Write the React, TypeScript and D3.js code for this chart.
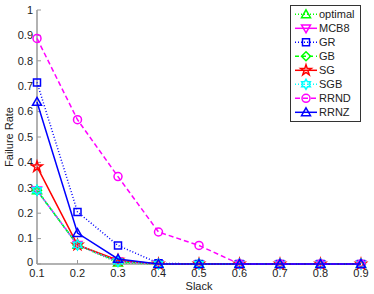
import * as d3 from "d3";

const slack = [0.1, 0.2, 0.3, 0.4, 0.5, 0.6, 0.7, 0.8, 0.9];
const optimal = [0.29, 0.075, 0.005, 0, 0, 0, 0, 0, 0];
const mcb8 = [0.29, 0.075, 0.01, 0, 0, 0, 0, 0, 0];
const gr = [0.715, 0.205, 0.073, 0.003, 0, 0, 0, 0, 0];
const gb = [0.29, 0.075, 0.01, 0, 0, 0, 0, 0, 0];
const sg = [0.383, 0.075, 0.015, 0, 0, 0, 0, 0, 0];
const sgb = [0.29, 0.075, 0.01, 0, 0, 0, 0, 0, 0];
const rrnd = [0.888, 0.568, 0.344, 0.126, 0.073, 0, 0, 0, 0];
const rrnz = [0.638, 0.122, 0.02, 0, 0, 0, 0, 0, 0];
const yTicks = [0, 0.1, 0.2, 0.3, 0.4, 0.5, 0.6, 0.7, 0.8, 0.9, 1];

type Marker = "triUp" | "triDown" | "square" | "diamond" | "star" | "hex" | "circle";

const series: { name: string; values: number[]; color: string; dash: string; marker: Marker }[] = [
  { name: "optimal", values: optimal, color: "#00ff00", dash: "1,2", marker: "triUp" },
  { name: "MCB8", values: mcb8, color: "#ff00ff", dash: "", marker: "triDown" },
  { name: "GR", values: gr, color: "#0000ff", dash: "1,2", marker: "square" },
  { name: "GB", values: gb, color: "#00ff00", dash: "4,3", marker: "diamond" },
  { name: "SG", values: sg, color: "#ff0000", dash: "", marker: "star" },
  { name: "SGB", values: sgb, color: "#00ffff", dash: "1,2", marker: "hex" },
  { name: "RRND", values: rrnd, color: "#ff00ff", dash: "5,3", marker: "circle" },
  { name: "RRNZ", values: rrnz, color: "#0000ff", dash: "", marker: "triUp" },
];

const markerPath = (m: Marker): string => {
  const s = 4.5;
  switch (m) {
    case "triUp":
      return `M0,${-s}L${s},${s * 0.75}L${-s},${s * 0.75}Z`;
    case "triDown":
      return `M0,${s}L${s},${-s * 0.75}L${-s},${-s * 0.75}Z`;
    case "square":
      return `M-3.5,-3.5H3.5V3.5H-3.5Z`;
    case "diamond":
      return `M0,-4.5L4.5,0L0,4.5L-4.5,0Z`;
    case "circle":
      return d3.arc()({ innerRadius: 0, outerRadius: 4, startAngle: 0, endAngle: 2 * Math.PI }) || "";
    case "star":
      return d3.symbol(d3.symbolStar, 34)() || "";
    case "hex": {
      const pts: string[] = [];
      for (let i = 0; i < 12; i++) {
        const r = i % 2 === 0 ? 5 : 2.9;
        const a = (i * Math.PI) / 6 - Math.PI / 2;
        pts.push(`${r * Math.cos(a)},${r * Math.sin(a)}`);
      }
      return "M" + pts.join("L") + "Z";
    }
  }
};

export default function App() {
  const W = 374;
  const H = 294;
  const x = d3.scaleLinear().domain([0.1, 0.9]).range([37, 361]);
  const y = d3.scaleLinear().domain([0, 1]).range([264, 10]);
  const line = d3
    .line<number>()
    .x((_, i) => x(slack[i]))
    .y((d) => y(d));
  const font = "Liberation Sans, Arial, sans-serif";
  const axisColor = "#999";

  return (
    <svg
      width={W}
      height={H}
      style={{ position: "absolute", left: 0, top: 0, background: "#fff" }}
      fontFamily={font}
    >
      {/* axes */}
      <line x1={x(0.1)} x2={x(0.1)} y1={y(0)} y2={y(1)} stroke={axisColor} strokeWidth={1.5} />
      <line x1={x(0.1)} x2={x(0.9)} y1={y(0)} y2={y(0)} stroke={axisColor} strokeWidth={1.5} />
      {yTicks.map((t) => (
        <g key={"y" + t}>
          <line x1={x(0.1)} x2={x(0.1) + 4} y1={y(t)} y2={y(t)} stroke={axisColor} />
          <text x={33} y={y(t)} dy={t === 0 ? "0.2em" : "0.35em"} textAnchor="end" fontSize={11} fill="#222">
            {t === 0 ? "0" : t === 1 ? "1" : d3.format(".1f")(t)}
          </text>
        </g>
      ))}
      {slack.map((t) => (
        <g key={"x" + t}>
          <line x1={x(t)} x2={x(t)} y1={y(0)} y2={y(0) - 4} stroke={axisColor} />
          <text x={x(t)} y={277} textAnchor="middle" fontSize={11} fill="#222">
            {d3.format(".1f")(t)}
          </text>
        </g>
      ))}
      <text x={199} y={290} textAnchor="middle" fontSize={11} fill="#222">
        Slack
      </text>
      <text
        transform={`translate(13,${y(0.5)}) rotate(-90)`}
        textAnchor="middle"
        fontSize={11}
        fill="#222"
      >
        Failure Rate
      </text>

      {/* series */}
      {series.map((s) => (
        <g key={s.name}>
          <path
            d={line(s.values) || ""}
            fill="none"
            stroke={s.color}
            strokeWidth={1.5}
            strokeDasharray={s.dash || undefined}
          />
          {s.values.map((v, i) => (
            <path
              key={i}
              d={markerPath(s.marker)}
              transform={`translate(${x(slack[i])},${y(v)})`}
              fill="none"
              stroke={s.color}
              strokeWidth={1.5}
            />
          ))}
        </g>
      ))}

      {/* legend */}
      <rect x={290.5} y={5.5} width={70} height={116} fill="#fff" stroke="#333" strokeWidth={1} />
      {series.map((s, i) => {
        const ly = 14.3 + i * 14;
        return (
          <g key={"l" + s.name}>
            <line
              x1={295}
              x2={317}
              y1={ly}
              y2={ly}
              stroke={s.color}
              strokeWidth={1.5}
              strokeDasharray={s.dash || undefined}
            />
            <path
              d={markerPath(s.marker)}
              transform={`translate(306,${ly})`}
              fill="none"
              stroke={s.color}
              strokeWidth={1.5}
            />
            <text x={319} y={ly} dy="0.35em" fontSize={11} fill="#222">
              {s.name}
            </text>
          </g>
        );
      })}
    </svg>
  );
}
